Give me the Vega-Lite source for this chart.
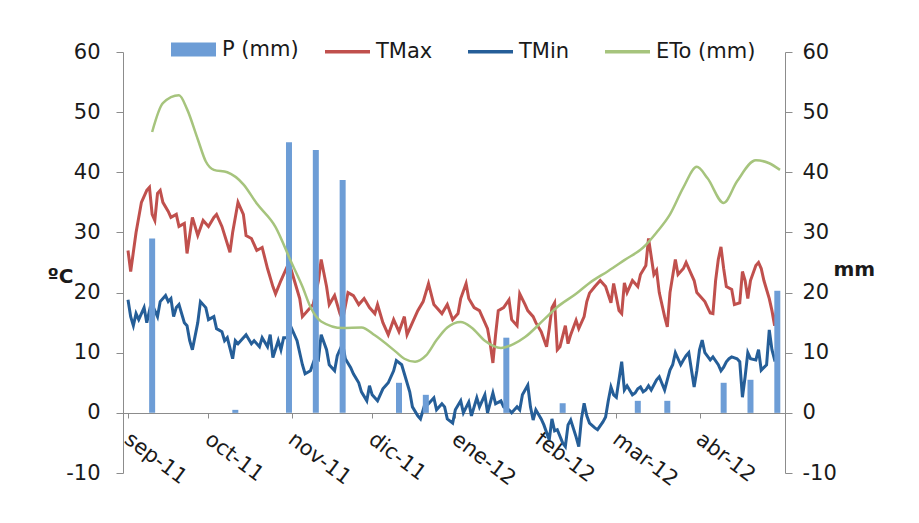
{
  "$schema": "https://vega.github.io/schema/vega-lite/v6.json",
  "width": 662,
  "height": 421,
  "autosize": {"type": "none"},
  "padding": {"left": 123, "top": 52, "right": 134, "bottom": 50},
  "background": "white",
  "config": {
    "view": {"stroke": null},
    "font": "DejaVu Sans",
    "axis": {"grid": false, "domainColor": "#8c8c8c", "tickColor": "#8c8c8c", "labelColor": "#1a1a1a", "labelFont": "DejaVu Sans", "labelFontSize": 21, "titleFont": "DejaVu Sans", "titleColor": "#1a1a1a"},
    "legend": {"labelFont": "DejaVu Sans", "labelFontSize": 21, "labelColor": "#1a1a1a", "padding": 0}
  },
  "datasets": {
    "temps": [
      {"date": "2011-09-01", "series": "TMax", "value": 27},
      {"date": "2011-09-02", "series": "TMax", "value": 23.5},
      {"date": "2011-09-04", "series": "TMax", "value": 30},
      {"date": "2011-09-06", "series": "TMax", "value": 35},
      {"date": "2011-09-08", "series": "TMax", "value": 37},
      {"date": "2011-09-09", "series": "TMax", "value": 37.5},
      {"date": "2011-09-10", "series": "TMax", "value": 33},
      {"date": "2011-09-11", "series": "TMax", "value": 32},
      {"date": "2011-09-12", "series": "TMax", "value": 36.5},
      {"date": "2011-09-13", "series": "TMax", "value": 37},
      {"date": "2011-09-14", "series": "TMax", "value": 35},
      {"date": "2011-09-16", "series": "TMax", "value": 33.5},
      {"date": "2011-09-17", "series": "TMax", "value": 32.5},
      {"date": "2011-09-19", "series": "TMax", "value": 33},
      {"date": "2011-09-20", "series": "TMax", "value": 31},
      {"date": "2011-09-22", "series": "TMax", "value": 31.5},
      {"date": "2011-09-23", "series": "TMax", "value": 26.5},
      {"date": "2011-09-25", "series": "TMax", "value": 32.5},
      {"date": "2011-09-27", "series": "TMax", "value": 29.5},
      {"date": "2011-09-29", "series": "TMax", "value": 32},
      {"date": "2011-10-01", "series": "TMax", "value": 31},
      {"date": "2011-10-03", "series": "TMax", "value": 32.5},
      {"date": "2011-10-04", "series": "TMax", "value": 33},
      {"date": "2011-10-06", "series": "TMax", "value": 31},
      {"date": "2011-10-09", "series": "TMax", "value": 26.7},
      {"date": "2011-10-10", "series": "TMax", "value": 30},
      {"date": "2011-10-12", "series": "TMax", "value": 35},
      {"date": "2011-10-14", "series": "TMax", "value": 33},
      {"date": "2011-10-15", "series": "TMax", "value": 29.5},
      {"date": "2011-10-17", "series": "TMax", "value": 29},
      {"date": "2011-10-19", "series": "TMax", "value": 27},
      {"date": "2011-10-21", "series": "TMax", "value": 27.5},
      {"date": "2011-10-23", "series": "TMax", "value": 24},
      {"date": "2011-10-25", "series": "TMax", "value": 21},
      {"date": "2011-10-26", "series": "TMax", "value": 19.8},
      {"date": "2011-10-28", "series": "TMax", "value": 22},
      {"date": "2011-10-31", "series": "TMax", "value": 25},
      {"date": "2011-11-02", "series": "TMax", "value": 22},
      {"date": "2011-11-04", "series": "TMax", "value": 19},
      {"date": "2011-11-05", "series": "TMax", "value": 16},
      {"date": "2011-11-07", "series": "TMax", "value": 17},
      {"date": "2011-11-09", "series": "TMax", "value": 18},
      {"date": "2011-11-11", "series": "TMax", "value": 22},
      {"date": "2011-11-12", "series": "TMax", "value": 25.5},
      {"date": "2011-11-14", "series": "TMax", "value": 21},
      {"date": "2011-11-15", "series": "TMax", "value": 18},
      {"date": "2011-11-17", "series": "TMax", "value": 19.5},
      {"date": "2011-11-19", "series": "TMax", "value": 16.5},
      {"date": "2011-11-20", "series": "TMax", "value": 15.5},
      {"date": "2011-11-22", "series": "TMax", "value": 20},
      {"date": "2011-11-24", "series": "TMax", "value": 19.5},
      {"date": "2011-11-26", "series": "TMax", "value": 18},
      {"date": "2011-11-28", "series": "TMax", "value": 19},
      {"date": "2011-11-30", "series": "TMax", "value": 17.5},
      {"date": "2011-12-02", "series": "TMax", "value": 16.5},
      {"date": "2011-12-03", "series": "TMax", "value": 18},
      {"date": "2011-12-05", "series": "TMax", "value": 15},
      {"date": "2011-12-07", "series": "TMax", "value": 13},
      {"date": "2011-12-09", "series": "TMax", "value": 15.5},
      {"date": "2011-12-11", "series": "TMax", "value": 13.5},
      {"date": "2011-12-13", "series": "TMax", "value": 16},
      {"date": "2011-12-14", "series": "TMax", "value": 13},
      {"date": "2011-12-16", "series": "TMax", "value": 15},
      {"date": "2011-12-18", "series": "TMax", "value": 17},
      {"date": "2011-12-20", "series": "TMax", "value": 18.5},
      {"date": "2011-12-22", "series": "TMax", "value": 21.5},
      {"date": "2011-12-24", "series": "TMax", "value": 18},
      {"date": "2011-12-25", "series": "TMax", "value": 17.5},
      {"date": "2011-12-27", "series": "TMax", "value": 16.5},
      {"date": "2011-12-29", "series": "TMax", "value": 18},
      {"date": "2011-12-31", "series": "TMax", "value": 15.5},
      {"date": "2012-01-02", "series": "TMax", "value": 16.5},
      {"date": "2012-01-03", "series": "TMax", "value": 19},
      {"date": "2012-01-05", "series": "TMax", "value": 21.5},
      {"date": "2012-01-06", "series": "TMax", "value": 19},
      {"date": "2012-01-08", "series": "TMax", "value": 17.5},
      {"date": "2012-01-10", "series": "TMax", "value": 17},
      {"date": "2012-01-11", "series": "TMax", "value": 16},
      {"date": "2012-01-13", "series": "TMax", "value": 14},
      {"date": "2012-01-14", "series": "TMax", "value": 11.5},
      {"date": "2012-01-15", "series": "TMax", "value": 8.3},
      {"date": "2012-01-16", "series": "TMax", "value": 13},
      {"date": "2012-01-17", "series": "TMax", "value": 17},
      {"date": "2012-01-19", "series": "TMax", "value": 17.5},
      {"date": "2012-01-21", "series": "TMax", "value": 18.8},
      {"date": "2012-01-22", "series": "TMax", "value": 15.5},
      {"date": "2012-01-24", "series": "TMax", "value": 14.5},
      {"date": "2012-01-25", "series": "TMax", "value": 19.8},
      {"date": "2012-01-27", "series": "TMax", "value": 18},
      {"date": "2012-01-28", "series": "TMax", "value": 17},
      {"date": "2012-01-30", "series": "TMax", "value": 16},
      {"date": "2012-01-31", "series": "TMax", "value": 15},
      {"date": "2012-02-02", "series": "TMax", "value": 13.5},
      {"date": "2012-02-04", "series": "TMax", "value": 11},
      {"date": "2012-02-05", "series": "TMax", "value": 14},
      {"date": "2012-02-06", "series": "TMax", "value": 17.5},
      {"date": "2012-02-07", "series": "TMax", "value": 18.3},
      {"date": "2012-02-08", "series": "TMax", "value": 10.5},
      {"date": "2012-02-09", "series": "TMax", "value": 11},
      {"date": "2012-02-11", "series": "TMax", "value": 14.5},
      {"date": "2012-02-12", "series": "TMax", "value": 11.5},
      {"date": "2012-02-13", "series": "TMax", "value": 13},
      {"date": "2012-02-15", "series": "TMax", "value": 15.4},
      {"date": "2012-02-16", "series": "TMax", "value": 14},
      {"date": "2012-02-18", "series": "TMax", "value": 16},
      {"date": "2012-02-19", "series": "TMax", "value": 18.5},
      {"date": "2012-02-20", "series": "TMax", "value": 19.9},
      {"date": "2012-02-22", "series": "TMax", "value": 21},
      {"date": "2012-02-24", "series": "TMax", "value": 22},
      {"date": "2012-02-26", "series": "TMax", "value": 21},
      {"date": "2012-02-28", "series": "TMax", "value": 18.3},
      {"date": "2012-02-29", "series": "TMax", "value": 21.5},
      {"date": "2012-03-02", "series": "TMax", "value": 17},
      {"date": "2012-03-03", "series": "TMax", "value": 16.5},
      {"date": "2012-03-04", "series": "TMax", "value": 21.6},
      {"date": "2012-03-05", "series": "TMax", "value": 20},
      {"date": "2012-03-07", "series": "TMax", "value": 22},
      {"date": "2012-03-09", "series": "TMax", "value": 21},
      {"date": "2012-03-10", "series": "TMax", "value": 23},
      {"date": "2012-03-12", "series": "TMax", "value": 24.5},
      {"date": "2012-03-13", "series": "TMax", "value": 29},
      {"date": "2012-03-15", "series": "TMax", "value": 23},
      {"date": "2012-03-16", "series": "TMax", "value": 23.7},
      {"date": "2012-03-17", "series": "TMax", "value": 20},
      {"date": "2012-03-19", "series": "TMax", "value": 16},
      {"date": "2012-03-20", "series": "TMax", "value": 14.3},
      {"date": "2012-03-21", "series": "TMax", "value": 20},
      {"date": "2012-03-23", "series": "TMax", "value": 25.5},
      {"date": "2012-03-24", "series": "TMax", "value": 23},
      {"date": "2012-03-26", "series": "TMax", "value": 24},
      {"date": "2012-03-27", "series": "TMax", "value": 25},
      {"date": "2012-03-29", "series": "TMax", "value": 23},
      {"date": "2012-03-30", "series": "TMax", "value": 22},
      {"date": "2012-03-31", "series": "TMax", "value": 20},
      {"date": "2012-04-01", "series": "TMax", "value": 19.5},
      {"date": "2012-04-03", "series": "TMax", "value": 18.5},
      {"date": "2012-04-05", "series": "TMax", "value": 16.6},
      {"date": "2012-04-06", "series": "TMax", "value": 16.5},
      {"date": "2012-04-07", "series": "TMax", "value": 22},
      {"date": "2012-04-08", "series": "TMax", "value": 25.5},
      {"date": "2012-04-09", "series": "TMax", "value": 27.6},
      {"date": "2012-04-10", "series": "TMax", "value": 24},
      {"date": "2012-04-11", "series": "TMax", "value": 21},
      {"date": "2012-04-13", "series": "TMax", "value": 20.5},
      {"date": "2012-04-14", "series": "TMax", "value": 18},
      {"date": "2012-04-16", "series": "TMax", "value": 18.3},
      {"date": "2012-04-17", "series": "TMax", "value": 23.5},
      {"date": "2012-04-18", "series": "TMax", "value": 22},
      {"date": "2012-04-19", "series": "TMax", "value": 19},
      {"date": "2012-04-20", "series": "TMax", "value": 22},
      {"date": "2012-04-22", "series": "TMax", "value": 24.5},
      {"date": "2012-04-23", "series": "TMax", "value": 25},
      {"date": "2012-04-24", "series": "TMax", "value": 24},
      {"date": "2012-04-25", "series": "TMax", "value": 22},
      {"date": "2012-04-27", "series": "TMax", "value": 19},
      {"date": "2012-04-28", "series": "TMax", "value": 17},
      {"date": "2012-04-29", "series": "TMax", "value": 14.5},
      {"date": "2012-04-30", "series": "TMax", "value": 18.3},
      {"date": "2011-09-01", "series": "TMin", "value": 18.8},
      {"date": "2011-09-02", "series": "TMin", "value": 16},
      {"date": "2011-09-03", "series": "TMin", "value": 14.5},
      {"date": "2011-09-04", "series": "TMin", "value": 16.5},
      {"date": "2011-09-05", "series": "TMin", "value": 15.5},
      {"date": "2011-09-07", "series": "TMin", "value": 17.5},
      {"date": "2011-09-08", "series": "TMin", "value": 15},
      {"date": "2011-09-09", "series": "TMin", "value": 17},
      {"date": "2011-09-10", "series": "TMin", "value": 15.5},
      {"date": "2011-09-11", "series": "TMin", "value": 17},
      {"date": "2011-09-12", "series": "TMin", "value": 16},
      {"date": "2011-09-13", "series": "TMin", "value": 18.5},
      {"date": "2011-09-15", "series": "TMin", "value": 19.5},
      {"date": "2011-09-16", "series": "TMin", "value": 18.5},
      {"date": "2011-09-17", "series": "TMin", "value": 19},
      {"date": "2011-09-18", "series": "TMin", "value": 16},
      {"date": "2011-09-19", "series": "TMin", "value": 17.5},
      {"date": "2011-09-20", "series": "TMin", "value": 18},
      {"date": "2011-09-22", "series": "TMin", "value": 15},
      {"date": "2011-09-23", "series": "TMin", "value": 14.5},
      {"date": "2011-09-24", "series": "TMin", "value": 12},
      {"date": "2011-09-25", "series": "TMin", "value": 10.5},
      {"date": "2011-09-27", "series": "TMin", "value": 15},
      {"date": "2011-09-28", "series": "TMin", "value": 18.5},
      {"date": "2011-09-30", "series": "TMin", "value": 17.5},
      {"date": "2011-10-01", "series": "TMin", "value": 15.5},
      {"date": "2011-10-03", "series": "TMin", "value": 16},
      {"date": "2011-10-04", "series": "TMin", "value": 14},
      {"date": "2011-10-06", "series": "TMin", "value": 13.5},
      {"date": "2011-10-07", "series": "TMin", "value": 12},
      {"date": "2011-10-08", "series": "TMin", "value": 12.5},
      {"date": "2011-10-10", "series": "TMin", "value": 9},
      {"date": "2011-10-11", "series": "TMin", "value": 12},
      {"date": "2011-10-12", "series": "TMin", "value": 11.5},
      {"date": "2011-10-14", "series": "TMin", "value": 12.5},
      {"date": "2011-10-15", "series": "TMin", "value": 13},
      {"date": "2011-10-17", "series": "TMin", "value": 11.5},
      {"date": "2011-10-18", "series": "TMin", "value": 12},
      {"date": "2011-10-20", "series": "TMin", "value": 11},
      {"date": "2011-10-21", "series": "TMin", "value": 12.5},
      {"date": "2011-10-23", "series": "TMin", "value": 11},
      {"date": "2011-10-24", "series": "TMin", "value": 13},
      {"date": "2011-10-25", "series": "TMin", "value": 9.2},
      {"date": "2011-10-27", "series": "TMin", "value": 12},
      {"date": "2011-10-28", "series": "TMin", "value": 10.5},
      {"date": "2011-10-29", "series": "TMin", "value": 12.5},
      {"date": "2011-10-31", "series": "TMin", "value": 12.5},
      {"date": "2011-11-01", "series": "TMin", "value": 14},
      {"date": "2011-11-03", "series": "TMin", "value": 12},
      {"date": "2011-11-04", "series": "TMin", "value": 10},
      {"date": "2011-11-05", "series": "TMin", "value": 8},
      {"date": "2011-11-06", "series": "TMin", "value": 6.5},
      {"date": "2011-11-08", "series": "TMin", "value": 7},
      {"date": "2011-11-10", "series": "TMin", "value": 9.5},
      {"date": "2011-11-11", "series": "TMin", "value": 9},
      {"date": "2011-11-12", "series": "TMin", "value": 13},
      {"date": "2011-11-14", "series": "TMin", "value": 10.5},
      {"date": "2011-11-15", "series": "TMin", "value": 8},
      {"date": "2011-11-17", "series": "TMin", "value": 7},
      {"date": "2011-11-18", "series": "TMin", "value": 9.5},
      {"date": "2011-11-20", "series": "TMin", "value": 11.5},
      {"date": "2011-11-21", "series": "TMin", "value": 9},
      {"date": "2011-11-23", "series": "TMin", "value": 7.5},
      {"date": "2011-11-24", "series": "TMin", "value": 6.5},
      {"date": "2011-11-26", "series": "TMin", "value": 5},
      {"date": "2011-11-27", "series": "TMin", "value": 3.5},
      {"date": "2011-11-29", "series": "TMin", "value": 2},
      {"date": "2011-11-30", "series": "TMin", "value": 4.5},
      {"date": "2011-12-01", "series": "TMin", "value": 3},
      {"date": "2011-12-03", "series": "TMin", "value": 2},
      {"date": "2011-12-05", "series": "TMin", "value": 4},
      {"date": "2011-12-06", "series": "TMin", "value": 4.5},
      {"date": "2011-12-07", "series": "TMin", "value": 5},
      {"date": "2011-12-09", "series": "TMin", "value": 7},
      {"date": "2011-12-10", "series": "TMin", "value": 8.7},
      {"date": "2011-12-12", "series": "TMin", "value": 8},
      {"date": "2011-12-13", "series": "TMin", "value": 6.5},
      {"date": "2011-12-15", "series": "TMin", "value": 3.5},
      {"date": "2011-12-16", "series": "TMin", "value": 1},
      {"date": "2011-12-18", "series": "TMin", "value": -0.5},
      {"date": "2011-12-19", "series": "TMin", "value": -1},
      {"date": "2011-12-21", "series": "TMin", "value": 2},
      {"date": "2011-12-22", "series": "TMin", "value": 1.5},
      {"date": "2011-12-24", "series": "TMin", "value": 2.5},
      {"date": "2011-12-25", "series": "TMin", "value": 0.5},
      {"date": "2011-12-27", "series": "TMin", "value": 1.5},
      {"date": "2011-12-28", "series": "TMin", "value": 1},
      {"date": "2011-12-29", "series": "TMin", "value": -1},
      {"date": "2011-12-31", "series": "TMin", "value": -1.7},
      {"date": "2012-01-01", "series": "TMin", "value": 0.5},
      {"date": "2012-01-03", "series": "TMin", "value": 2},
      {"date": "2012-01-04", "series": "TMin", "value": 0},
      {"date": "2012-01-06", "series": "TMin", "value": 1.8},
      {"date": "2012-01-07", "series": "TMin", "value": -0.5},
      {"date": "2012-01-09", "series": "TMin", "value": 2.5},
      {"date": "2012-01-10", "series": "TMin", "value": 1},
      {"date": "2012-01-12", "series": "TMin", "value": 3},
      {"date": "2012-01-13", "series": "TMin", "value": 0},
      {"date": "2012-01-15", "series": "TMin", "value": 3.3},
      {"date": "2012-01-16", "series": "TMin", "value": 1.5},
      {"date": "2012-01-18", "series": "TMin", "value": 2},
      {"date": "2012-01-19", "series": "TMin", "value": 1},
      {"date": "2012-01-21", "series": "TMin", "value": 0.5},
      {"date": "2012-01-22", "series": "TMin", "value": 0},
      {"date": "2012-01-24", "series": "TMin", "value": 1},
      {"date": "2012-01-25", "series": "TMin", "value": 0.5},
      {"date": "2012-01-26", "series": "TMin", "value": 3},
      {"date": "2012-01-28", "series": "TMin", "value": 4.6},
      {"date": "2012-01-29", "series": "TMin", "value": 1},
      {"date": "2012-01-30", "series": "TMin", "value": -1.2},
      {"date": "2012-01-31", "series": "TMin", "value": 0.5},
      {"date": "2012-02-02", "series": "TMin", "value": -1},
      {"date": "2012-02-03", "series": "TMin", "value": -2},
      {"date": "2012-02-05", "series": "TMin", "value": -4.5},
      {"date": "2012-02-06", "series": "TMin", "value": -1},
      {"date": "2012-02-07", "series": "TMin", "value": -3},
      {"date": "2012-02-08", "series": "TMin", "value": -2.8},
      {"date": "2012-02-10", "series": "TMin", "value": -5},
      {"date": "2012-02-11", "series": "TMin", "value": -5.6},
      {"date": "2012-02-12", "series": "TMin", "value": -2},
      {"date": "2012-02-13", "series": "TMin", "value": -1.2},
      {"date": "2012-02-15", "series": "TMin", "value": -4},
      {"date": "2012-02-16", "series": "TMin", "value": -5.6},
      {"date": "2012-02-17", "series": "TMin", "value": -1},
      {"date": "2012-02-18", "series": "TMin", "value": 1.6},
      {"date": "2012-02-19", "series": "TMin", "value": -0.5},
      {"date": "2012-02-20", "series": "TMin", "value": -1.7},
      {"date": "2012-02-22", "series": "TMin", "value": -2.5},
      {"date": "2012-02-23", "series": "TMin", "value": -2.8},
      {"date": "2012-02-25", "series": "TMin", "value": -1.5},
      {"date": "2012-02-26", "series": "TMin", "value": -0.7},
      {"date": "2012-02-27", "series": "TMin", "value": 2},
      {"date": "2012-02-28", "series": "TMin", "value": 4.3},
      {"date": "2012-02-29", "series": "TMin", "value": 3},
      {"date": "2012-03-01", "series": "TMin", "value": 2.6},
      {"date": "2012-03-03", "series": "TMin", "value": 8.5},
      {"date": "2012-03-04", "series": "TMin", "value": 3.8},
      {"date": "2012-03-05", "series": "TMin", "value": 4.5},
      {"date": "2012-03-07", "series": "TMin", "value": 3},
      {"date": "2012-03-08", "series": "TMin", "value": 3.3},
      {"date": "2012-03-09", "series": "TMin", "value": 4},
      {"date": "2012-03-10", "series": "TMin", "value": 4.3},
      {"date": "2012-03-11", "series": "TMin", "value": 3.5},
      {"date": "2012-03-12", "series": "TMin", "value": 3.8},
      {"date": "2012-03-13", "series": "TMin", "value": 4.5},
      {"date": "2012-03-14", "series": "TMin", "value": 3.8},
      {"date": "2012-03-16", "series": "TMin", "value": 5.5},
      {"date": "2012-03-17", "series": "TMin", "value": 6},
      {"date": "2012-03-19", "series": "TMin", "value": 3.8},
      {"date": "2012-03-20", "series": "TMin", "value": 5.5},
      {"date": "2012-03-21", "series": "TMin", "value": 7.1},
      {"date": "2012-03-22", "series": "TMin", "value": 8},
      {"date": "2012-03-23", "series": "TMin", "value": 10},
      {"date": "2012-03-25", "series": "TMin", "value": 8},
      {"date": "2012-03-26", "series": "TMin", "value": 8.8},
      {"date": "2012-03-27", "series": "TMin", "value": 9.5},
      {"date": "2012-03-28", "series": "TMin", "value": 10},
      {"date": "2012-03-30", "series": "TMin", "value": 4.3},
      {"date": "2012-03-31", "series": "TMin", "value": 7},
      {"date": "2012-04-01", "series": "TMin", "value": 10.5},
      {"date": "2012-04-02", "series": "TMin", "value": 12.1},
      {"date": "2012-04-03", "series": "TMin", "value": 10},
      {"date": "2012-04-05", "series": "TMin", "value": 8.8},
      {"date": "2012-04-06", "series": "TMin", "value": 9.3},
      {"date": "2012-04-08", "series": "TMin", "value": 8},
      {"date": "2012-04-09", "series": "TMin", "value": 7},
      {"date": "2012-04-10", "series": "TMin", "value": 7.6},
      {"date": "2012-04-11", "series": "TMin", "value": 8.5},
      {"date": "2012-04-12", "series": "TMin", "value": 9},
      {"date": "2012-04-13", "series": "TMin", "value": 9.3},
      {"date": "2012-04-15", "series": "TMin", "value": 9},
      {"date": "2012-04-16", "series": "TMin", "value": 8.5},
      {"date": "2012-04-17", "series": "TMin", "value": 2.6},
      {"date": "2012-04-18", "series": "TMin", "value": 6},
      {"date": "2012-04-19", "series": "TMin", "value": 10},
      {"date": "2012-04-20", "series": "TMin", "value": 9},
      {"date": "2012-04-22", "series": "TMin", "value": 8.8},
      {"date": "2012-04-23", "series": "TMin", "value": 10.5},
      {"date": "2012-04-24", "series": "TMin", "value": 7.1},
      {"date": "2012-04-26", "series": "TMin", "value": 8},
      {"date": "2012-04-27", "series": "TMin", "value": 13.8},
      {"date": "2012-04-28", "series": "TMin", "value": 10.5},
      {"date": "2012-04-29", "series": "TMin", "value": 8.8},
      {"date": "2012-04-30", "series": "TMin", "value": 9}
    ],
    "eto": [
      {"date": "2011-09-10", "series": "ETo (mm)", "value": 46.7},
      {"date": "2011-09-14", "series": "ETo (mm)", "value": 51.5},
      {"date": "2011-09-20", "series": "ETo (mm)", "value": 52.8},
      {"date": "2011-09-23", "series": "ETo (mm)", "value": 50.5},
      {"date": "2011-09-27", "series": "ETo (mm)", "value": 45.5},
      {"date": "2011-09-30", "series": "ETo (mm)", "value": 41.8},
      {"date": "2011-10-03", "series": "ETo (mm)", "value": 40.4},
      {"date": "2011-10-08", "series": "ETo (mm)", "value": 40},
      {"date": "2011-10-14", "series": "ETo (mm)", "value": 38},
      {"date": "2011-10-19", "series": "ETo (mm)", "value": 34.8},
      {"date": "2011-10-26", "series": "ETo (mm)", "value": 30.9},
      {"date": "2011-11-01", "series": "ETo (mm)", "value": 24.9},
      {"date": "2011-11-05", "series": "ETo (mm)", "value": 21},
      {"date": "2011-11-08", "series": "ETo (mm)", "value": 17.6},
      {"date": "2011-11-12", "series": "ETo (mm)", "value": 15.2},
      {"date": "2011-11-20", "series": "ETo (mm)", "value": 14.1},
      {"date": "2011-11-27", "series": "ETo (mm)", "value": 14.2},
      {"date": "2011-12-02", "series": "ETo (mm)", "value": 12.9},
      {"date": "2011-12-10", "series": "ETo (mm)", "value": 10.1},
      {"date": "2011-12-13", "series": "ETo (mm)", "value": 9},
      {"date": "2011-12-17", "series": "ETo (mm)", "value": 8.5},
      {"date": "2011-12-21", "series": "ETo (mm)", "value": 9.5},
      {"date": "2011-12-25", "series": "ETo (mm)", "value": 12.1},
      {"date": "2011-12-29", "series": "ETo (mm)", "value": 14.2},
      {"date": "2012-01-03", "series": "ETo (mm)", "value": 15.1},
      {"date": "2012-01-07", "series": "ETo (mm)", "value": 14.2},
      {"date": "2012-01-12", "series": "ETo (mm)", "value": 12},
      {"date": "2012-01-18", "series": "ETo (mm)", "value": 10.8},
      {"date": "2012-01-23", "series": "ETo (mm)", "value": 11.5},
      {"date": "2012-01-27", "series": "ETo (mm)", "value": 12.6},
      {"date": "2012-02-03", "series": "ETo (mm)", "value": 15.5},
      {"date": "2012-02-08", "series": "ETo (mm)", "value": 17.6},
      {"date": "2012-02-15", "series": "ETo (mm)", "value": 19.8},
      {"date": "2012-02-20", "series": "ETo (mm)", "value": 21.6},
      {"date": "2012-02-27", "series": "ETo (mm)", "value": 23.6},
      {"date": "2012-03-04", "series": "ETo (mm)", "value": 25.4},
      {"date": "2012-03-11", "series": "ETo (mm)", "value": 27.5},
      {"date": "2012-03-16", "series": "ETo (mm)", "value": 30},
      {"date": "2012-03-21", "series": "ETo (mm)", "value": 33},
      {"date": "2012-03-26", "series": "ETo (mm)", "value": 37.5},
      {"date": "2012-03-31", "series": "ETo (mm)", "value": 40.9},
      {"date": "2012-04-04", "series": "ETo (mm)", "value": 39},
      {"date": "2012-04-10", "series": "ETo (mm)", "value": 34.9},
      {"date": "2012-04-15", "series": "ETo (mm)", "value": 38.5},
      {"date": "2012-04-22", "series": "ETo (mm)", "value": 42},
      {"date": "2012-04-27", "series": "ETo (mm)", "value": 41.5},
      {"date": "2012-05-01", "series": "ETo (mm)", "value": 40.4}
    ],
    "precip": [
      {"date": "2011-09-10", "series": "P (mm)", "value": 29},
      {"date": "2011-10-11", "series": "P (mm)", "value": 0.5},
      {"date": "2011-10-31", "series": "P (mm)", "value": 45},
      {"date": "2011-11-10", "series": "P (mm)", "value": 43.7},
      {"date": "2011-11-20", "series": "P (mm)", "value": 38.7},
      {"date": "2011-12-11", "series": "P (mm)", "value": 5},
      {"date": "2011-12-21", "series": "P (mm)", "value": 3},
      {"date": "2012-01-20", "series": "P (mm)", "value": 12.5},
      {"date": "2012-02-10", "series": "P (mm)", "value": 1.6},
      {"date": "2012-03-09", "series": "P (mm)", "value": 2},
      {"date": "2012-03-20", "series": "P (mm)", "value": 2},
      {"date": "2012-04-10", "series": "P (mm)", "value": 5},
      {"date": "2012-04-20", "series": "P (mm)", "value": 5.5},
      {"date": "2012-04-30", "series": "P (mm)", "value": 20.3}
    ]
  },
  "layer": [
    {
      "data": {"name": "temps"},
      "mark": {"type": "line", "strokeWidth": 3, "interpolate": "linear"},
      "encoding": {
        "x": {
          "field": "date", "type": "temporal",
          "scale": {"type": "utc", "domain": [{"year": 2011, "month": 9, "date": 1, "utc": true}, {"year": 2012, "month": 5, "date": 1, "utc": true}]},
          "axis": {
            "orient": "bottom", "offset": -60, "title": null,
            "values": [
              {"year": 2011, "month": 9, "date": 1, "utc": true},
              {"year": 2011, "month": 10, "date": 1, "utc": true},
              {"year": 2011, "month": 11, "date": 1, "utc": true},
              {"year": 2011, "month": 12, "date": 1, "utc": true},
              {"year": 2012, "month": 1, "date": 1, "utc": true},
              {"year": 2012, "month": 2, "date": 1, "utc": true},
              {"year": 2012, "month": 3, "date": 1, "utc": true},
              {"year": 2012, "month": 4, "date": 1, "utc": true}
            ],
            "labelExpr": "['ene','feb','mar','abr','may','jun','jul','ago','sep','oct','nov','dic'][utcmonth(datum.value)] + '-' + utcFormat(datum.value, '%y')",
            "labelAngle": 37, "labelAlign": "left", "labelBaseline": "top",
            "labelPadding": 10, "labelOffset": 5, "tickSize": 5,
            "labelFlush": false, "labelOverlap": false, "labelBound": false
          }
        },
        "y": {
          "field": "value", "type": "quantitative",
          "scale": {"domain": [-10, 60], "nice": false, "zero": false},
          "axis": {
            "orient": "left", "values": [-10, 0, 10, 20, 30, 40, 50, 60],
            "labelExpr": "'' + datum.value",
            "title": "ºC", "titleAngle": 0, "titleX": -76, "titleY": 230,
            "titleAlign": "left", "titleBaseline": "alphabetic",
            "titleFontSize": 20, "titleFontWeight": "bold",
            "tickSize": 7, "labelPadding": 16
          }
        },
        "stroke": {
          "field": "series", "type": "nominal",
          "scale": {"domain": ["TMax", "TMin", "ETo (mm)"], "range": ["#c0504d", "#255e98", "#a6c47d"]},
          "legend": {
            "orient": "none", "legendX": 200, "legendY": -25, "direction": "horizontal",
            "title": null, "symbolType": "stroke", "symbolSize": 2025, "symbolStrokeWidth": 3.5,
            "labelOffset": 4, "columnPadding": 28
          }
        }
      }
    },
    {
      "layer": [
        {
          "data": {"name": "precip"},
          "mark": {"type": "bar", "size": 6},
          "encoding": {
            "x": {"field": "date", "type": "temporal"},
            "y": {
              "field": "value", "type": "quantitative",
              "scale": {"domain": [-10, 60], "nice": false, "zero": false},
              "axis": {
                "orient": "right", "values": [-10, 0, 10, 20, 30, 40, 50, 60],
                "labelExpr": "'' + datum.value",
                "title": "mm", "titleAngle": 0, "titleX": 48, "titleY": 223,
                "titleAlign": "left", "titleBaseline": "alphabetic",
                "titleFontSize": 20, "titleFontWeight": "bold",
                "tickSize": 7, "labelPadding": 10
              }
            },
            "fill": {
              "field": "series", "type": "nominal",
              "scale": {"domain": ["P (mm)"], "range": ["#6d9dd6"]},
              "legend": {
                "orient": "none", "legendX": 48, "legendY": -25, "direction": "horizontal",
                "title": null, "symbolType": "M-1,-0.31H1V0.31H-1Z", "symbolSize": 2025,
                "symbolStrokeWidth": 0, "labelOffset": 6
              }
            }
          }
        },
        {
          "data": {"name": "eto"},
          "mark": {"type": "line", "strokeWidth": 2.5, "interpolate": "monotone"},
          "encoding": {
            "x": {"field": "date", "type": "temporal"},
            "y": {"field": "value", "type": "quantitative", "scale": {"domain": [-10, 60], "nice": false, "zero": false}},
            "stroke": {"field": "series", "type": "nominal"}
          }
        }
      ]
    }
  ],
  "resolve": {"scale": {"y": "independent"}}
}
